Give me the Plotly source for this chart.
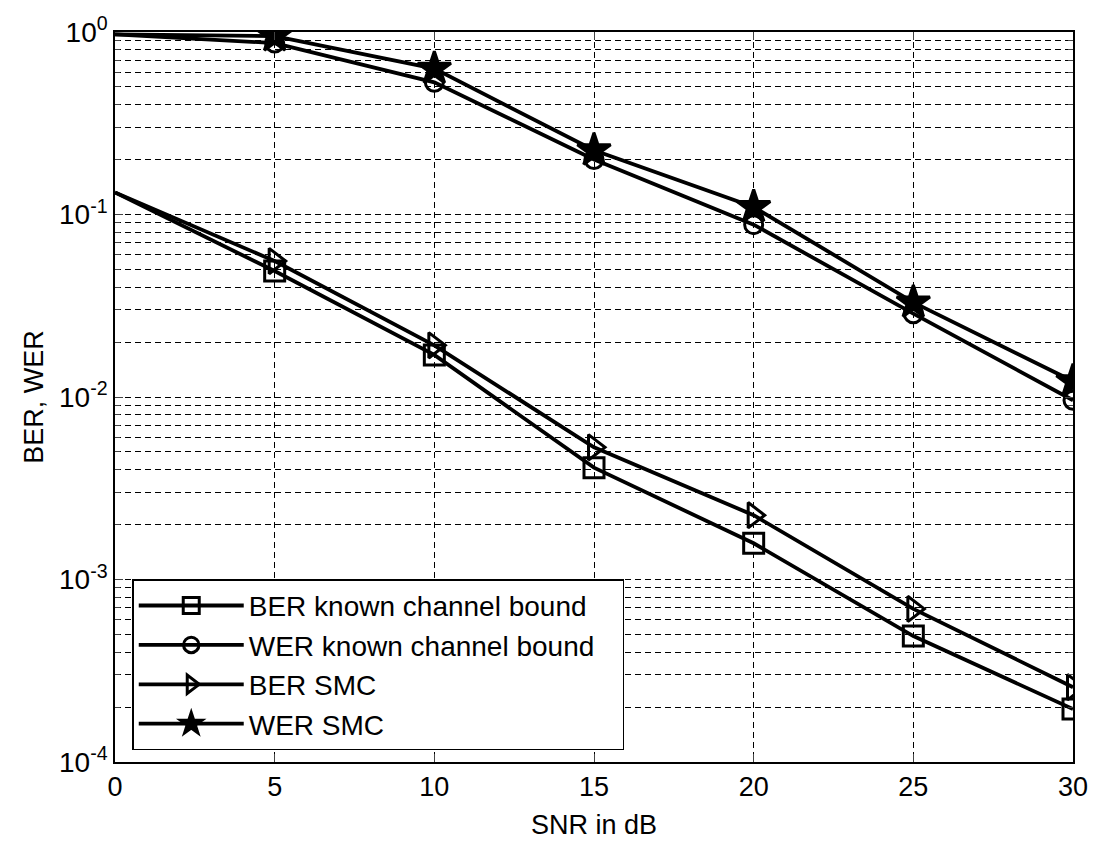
import plotly.graph_objects as go

snr = [0, 5, 10, 15, 20, 25, 30]
ber_known = [0.132, 0.049, 0.017, 0.0041, 0.00158, 0.00049, 0.000195]
wer_known = [0.97, 0.87, 0.53, 0.20, 0.088, 0.0286, 0.0096]
ber_smc = [0.132, 0.0556, 0.0192, 0.0053, 0.00225, 0.00069, 0.000257]
wer_smc = [0.97, 0.95, 0.63, 0.225, 0.11, 0.033, 0.0122]

names = ["BER known channel bound", "WER known channel bound", "BER SMC", "WER SMC"]
symbols = ["square-open", "circle-open", "triangle-right-open", "star"]
sizes = [20, 18, 22, 25]
series = [ber_known, wer_known, ber_smc, wer_smc]

ytick_vals = [1e-4, 1e-3, 1e-2, 1e-1, 1]
ytick_text = ["10<sup>-4</sup>", "10<sup>-3</sup>", "10<sup>-2</sup>", "10<sup>-1</sup>", "10<sup>0</sup>"]
xtick_vals = [0, 5, 10, 15, 20, 25, 30]

minor_y = [m * 10 ** e for e in range(-4, 0) for m in range(2, 10)]

fig = go.Figure()
for name, sym, sz, ys in zip(names, symbols, sizes, series):
    fig.add_trace(go.Scatter(
        x=snr, y=ys, name=name + "\u00a0\u00a0\u00a0", mode="lines+markers",
        line=dict(color="black", width=3.8),
        marker=dict(symbol=sym, size=[0] + [sz] * (len(snr) - 1), color="black",
                    opacity=1, line=dict(color="black", width=3)),
        legendgroup=name,
    ))

font = "Liberation Sans, Arial, Helvetica, sans-serif"
grid_dash = "6px,4px"
fig.update_layout(
    width=1100, height=847,
    margin=dict(l=115, r=21, t=32, b=80),
    paper_bgcolor="white", plot_bgcolor="white",
    font=dict(family=font, size=27, color="black"),
    showlegend=True,
    legend=dict(
        x=0.018, y=0.016, xanchor="left", yanchor="bottom",
        bgcolor="white", bordercolor="black", borderwidth=1.5,
        font=dict(size=28), tracegroupgap=0, itemwidth=105,
    ),
    xaxis=dict(
        range=[0, 30], tickvals=xtick_vals, ticks="inside", ticklen=8,
        showline=True, linecolor="black", linewidth=1.5, mirror="allticks",
        showgrid=True, gridcolor="black", gridwidth=1.3, griddash=grid_dash,
        zeroline=False, tickfont=dict(size=27),
        title=dict(text="SNR in dB", font=dict(size=27), standoff=14),
    ),
    yaxis=dict(
        type="log", range=[-4, 0], tickvals=ytick_vals, ticktext=ytick_text,
        ticks="inside", ticklen=8,
        showline=True, linecolor="black", linewidth=1.5, mirror="allticks",
        showgrid=True, gridcolor="black", gridwidth=1.3, griddash=grid_dash,
        zeroline=False, tickfont=dict(size=28),
        minor=dict(tickvals=minor_y, ticks="inside", ticklen=5, showgrid=True,
                   gridcolor="black", gridwidth=1.3, griddash=grid_dash),
        title=dict(text="BER, WER", font=dict(size=27), standoff=8),
    ),
)

fig.write_html("out.html")
